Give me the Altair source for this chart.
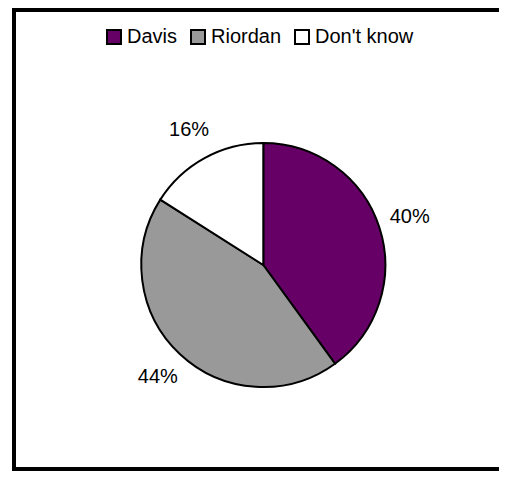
import altair as alt
import pandas as pd

candidates = ["Davis", "Riordan", "Don't know"]
shares = [40, 44, 16]
labels = ["40%", "44%", "16%"]
colors = ["#660066", "#999999", "#FFFFFF"]

df = pd.DataFrame({
    "candidate": candidates,
    "share": shares,
    "label": labels,
    "rank": list(range(len(candidates))),
})

FONT = "Liberation Sans"
W, H = 491, 463
cx, cy = 255.3, 257

base = alt.Chart(df).encode(
    theta=alt.Theta("share:Q", stack=True),
    order=alt.Order("rank:Q"),
)

pie = base.mark_arc(outerRadius=122, stroke="black", strokeWidth=2).encode(
    color=alt.Color(
        "candidate:N",
        scale=alt.Scale(domain=candidates, range=colors),
        legend=alt.Legend(
            orient="none",
            legendX=96,
            legendY=19,
            direction="horizontal",
            title=None,
            symbolType="square",
            symbolSize=196,
            symbolStrokeColor="black",
            symbolStrokeWidth=2,
            symbolOpacity=1,
            labelFontSize=20,
            labelFont=FONT,
            labelColor="black",
            labelOffset=3,
            columnPadding=9,
            padding=0,
        ),
    ),
    x=alt.value(cx),
    y=alt.value(cy),
)

text = base.mark_text(radius=154, fontSize=20, font=FONT, color="black").encode(
    text="label:N",
    x=alt.value(cx),
    y=alt.value(cy),
)

frame_src = alt.Chart(pd.DataFrame({"k": [0]}))
left_edge = frame_src.mark_rule(color="black", strokeWidth=4).encode(
    x=alt.value(6), y=alt.value(0), y2=alt.value(H)
)
top_edge = frame_src.mark_rule(color="black", strokeWidth=4).encode(
    y=alt.value(2), x=alt.value(4), x2=alt.value(W)
)
bottom_edge = frame_src.mark_rule(color="black", strokeWidth=4).encode(
    y=alt.value(H - 2), x=alt.value(4), x2=alt.value(W)
)

chart = (
    alt.layer(pie, text, left_edge, top_edge, bottom_edge)
    .properties(
        width=W,
        height=H,
        padding=0,
        autosize=alt.AutoSizeParams(type="none"),
        background="white",
    )
    .configure_view(stroke=None)
)

chart.save("out.html", embed_options={"renderer": "svg", "actions": False})
